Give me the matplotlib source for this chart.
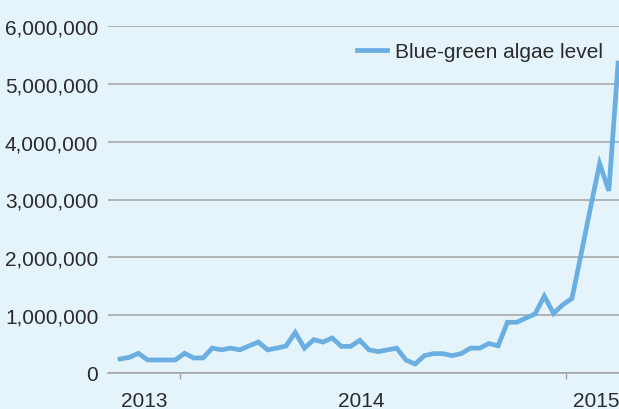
import matplotlib.pyplot as plt
from matplotlib.ticker import FuncFormatter, FixedLocator
import numpy as np

# blue-green algae level (roughly every 9 days)
algae = [242000, 270000, 340000, 225000, 225000, 225000, 225000, 340000, 260000, 260000,
         430000, 400000, 430000, 400000, 470000, 535000, 400000, 430000, 467000, 700000,
         430000, 576000, 535000, 605000, 460000, 460000, 565000, 400000, 370000, 400000,
         430000, 225000, 155000, 300000, 335000, 335000, 300000, 335000, 430000, 430000,
         510000, 470000, 877000, 877000, 950000, 1020000, 1330000, 1030000, 1180000, 1290000,
         2060000, 2850000, 3620000, 3150000, 5360000]
year_labels = ['2013', '2014', '2015']

x = np.arange(len(algae))

plt.rcParams['font.family'] = ['Liberation Sans', 'DejaVu Sans']

fig = plt.figure(figsize=(6.19, 4.10), dpi=100)
bg = '#e5f4fa'
fig.patch.set_facecolor(bg)
ax = fig.add_axes([108 / 619, 36 / 410, 511 / 619, 347 / 410])
ax.set_facecolor(bg)

ax.plot(x, algae, color='#6aaee2', linewidth=3.4, solid_joinstyle='miter',
        label='Blue-green algae level', zorder=3)

ax.set_ylim(0, 6000000)
ax.set_xlim(-1.3, 54.1)
ax.set_yticks(np.arange(0, 6000001, 1000000))
ax.yaxis.set_major_formatter(FuncFormatter(lambda v, p: f'{int(v):,}'))
ax.grid(axis='y', color='#a3a3a3', linewidth=1.1, zorder=1)

# year boundaries as ticks, labels centred in between
ax.xaxis.set_major_locator(FixedLocator([6.5, 48.4]))
ax.xaxis.set_minor_locator(FixedLocator([2.6, 26.2, 51.6]))
ax.set_xticklabels([], minor=False)
ax.set_xticklabels(year_labels, minor=True)
ax.tick_params(axis='x', which='major', length=4, width=1, color='#a3a3a3', direction='out')
ax.tick_params(axis='x', which='minor', length=0, pad=13, labelsize=15, labelcolor='#2b2b2b')
ax.tick_params(axis='y', length=0, pad=7, labelsize=15, labelcolor='#2b2b2b')

for s in ['top', 'right', 'left']:
    ax.spines[s].set_visible(False)
ax.spines['bottom'].set_color('#a3a3a3')
ax.spines['bottom'].set_linewidth(1.1)

leg = ax.legend(loc='center right', bbox_to_anchor=(603 / 619, 1 - 53 / 410),
                bbox_transform=fig.transFigure, frameon=False, fontsize=15,
                handlelength=1.44, handletextpad=0.38, borderpad=0, borderaxespad=0)
for t in leg.get_texts():
    t.set_color('#2b2b2b')

fig.savefig('out.png', dpi=100, facecolor=bg)
